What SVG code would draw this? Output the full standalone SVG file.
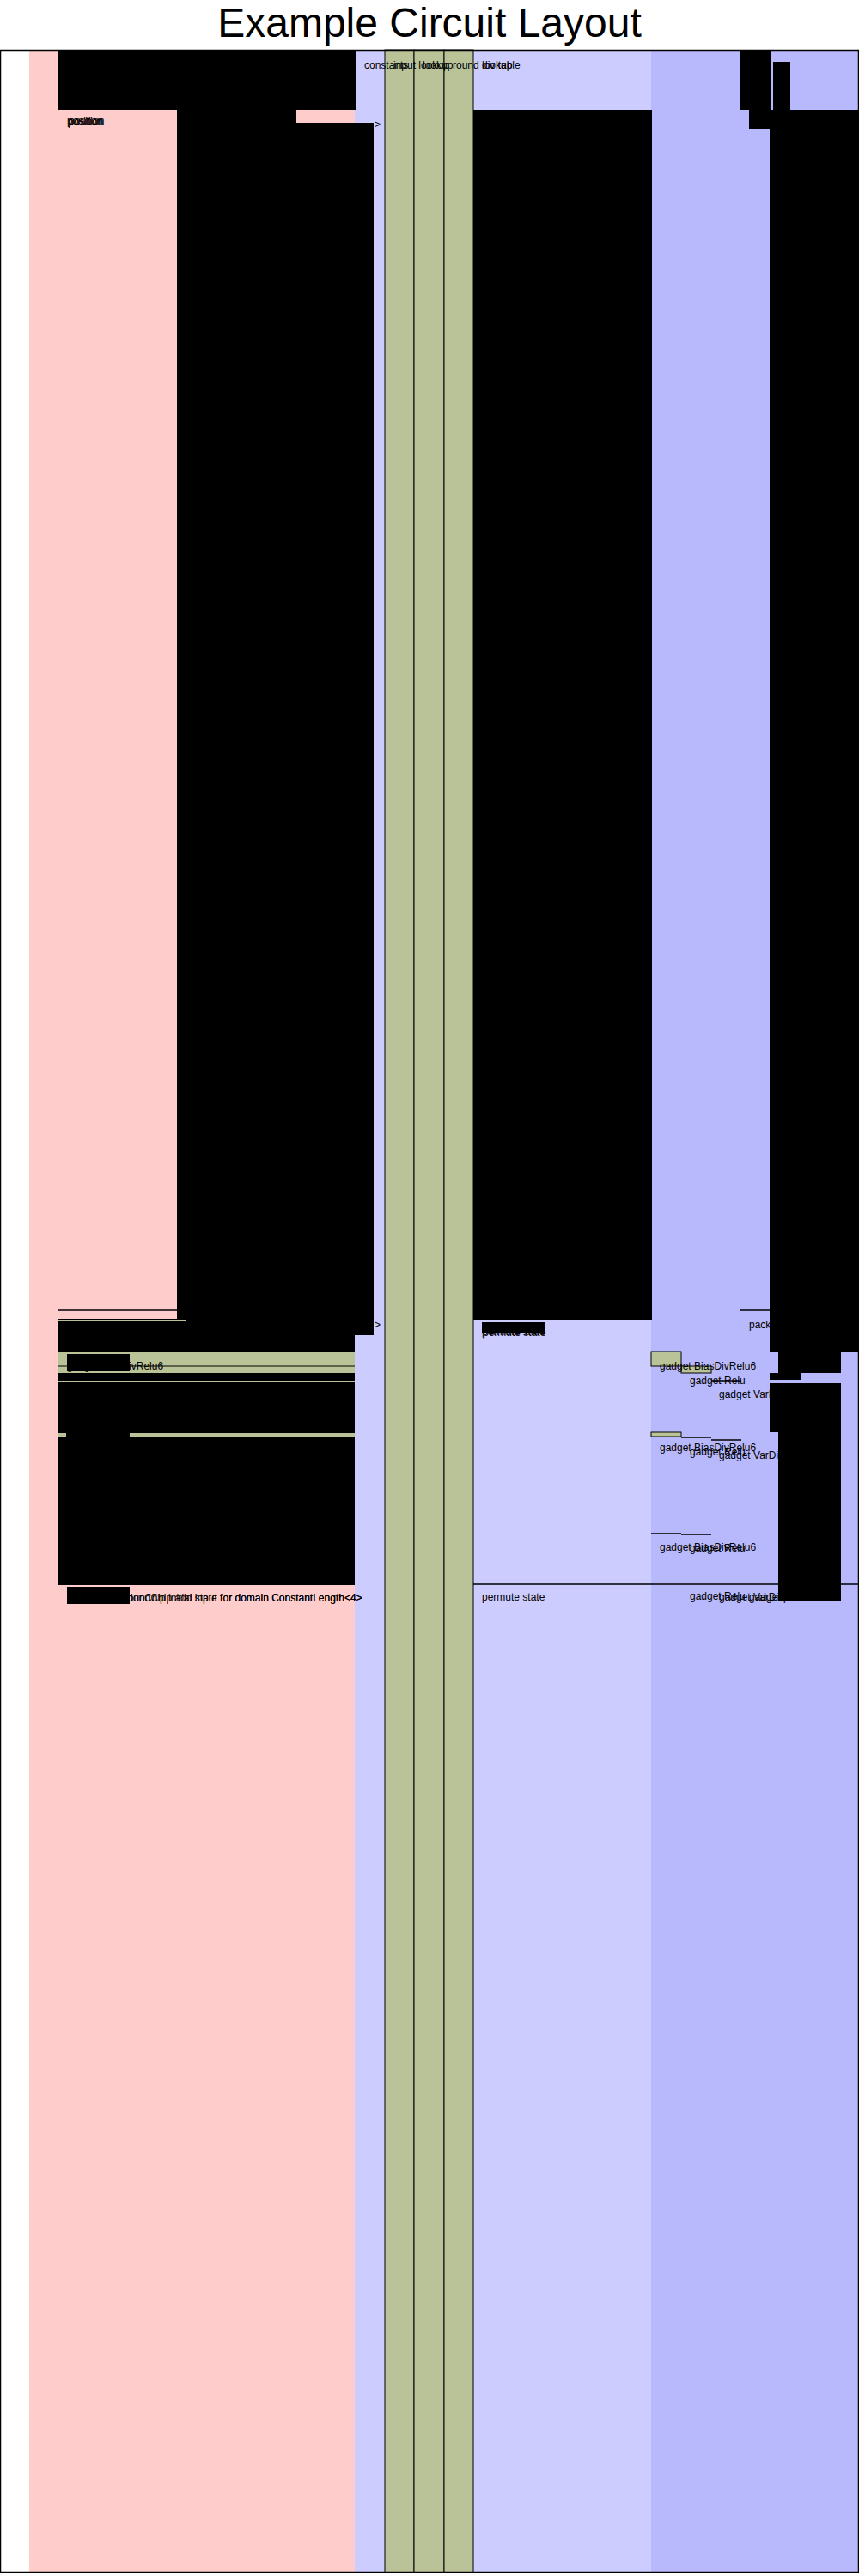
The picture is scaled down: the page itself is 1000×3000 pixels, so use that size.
<svg xmlns="http://www.w3.org/2000/svg" width="1000" height="3000" viewBox="0 0 1000 3000">
<style>
text{font-family:"Liberation Sans",Arial,sans-serif;fill:#000}
.t{font-size:12px}
.blk{fill:#000}
.grn{fill:#bac398;stroke:#000;stroke-width:1}
.gf{fill:#bac398}
.ln{stroke:#000;stroke-width:1.5;fill:none}
</style>
<rect x="0" y="0" width="1000" height="3000" fill="#fff"/>
<text x="500" y="43" font-size="48" text-anchor="middle">Example Circuit Layout</text>
<g id="columns">
<rect x="34" y="58" width="379" height="2938" fill="#ffcccc"/>
<rect x="413" y="58" width="35" height="2938" fill="#ccccff"/>
<rect x="551" y="58" width="207" height="2938" fill="#ccccff"/>
<rect x="758" y="58" width="242" height="2938" fill="#b8b8fc"/>
</g>
<g id="region-lookups">
<rect class="grn" x="448" y="58" width="34" height="2938"/>
<rect class="grn" x="482" y="58" width="35" height="2938"/>
<rect class="grn" x="517" y="58" width="34" height="2938"/>
</g>
<g id="region-left-top">
<rect class="blk" x="67" y="58" width="347" height="70"/>
<rect class="blk" x="206" y="128" width="139" height="1409"/>
<rect class="blk" x="345" y="143" width="90" height="1394"/>
<rect class="blk" x="413" y="1537" width="22" height="18"/>
<text class="t" x="78" y="145">position</text>
<text class="t" x="80" y="145">position</text>
<text class="t" x="79" y="146">position</text>
<text class="t" x="436" y="149">&gt;</text>
<line class="ln" x1="68" y1="1526" x2="206" y2="1526"/>
</g>
<g id="region-left-gadgets">
<rect class="blk" x="68" y="1536" width="345" height="310"/>
<rect class="gf" x="68" y="1537" width="148" height="2"/>
<rect class="gf" x="68" y="1575" width="345" height="24"/>
<rect class="blk" x="78" y="1577" width="73" height="20"/>
<line x1="68" y1="1591" x2="413" y2="1591" stroke="#000" stroke-width="1"/>
<text class="t" x="78" y="1595">gadget BiasDivRelu6</text>
<rect class="gf" x="68" y="1608" width="345" height="2"/>
<rect class="gf" x="68" y="1669" width="9" height="4"/>
<rect class="gf" x="151" y="1669" width="262" height="4"/>
<text class="t" x="436" y="1547">&gt;</text>
</g>
<g id="region-left-poseidon">
<rect class="blk" x="78" y="1848" width="73" height="20"/>
<text class="t" x="78" y="1865">gadget PoseidonChip initial state for domain ConstantLength&lt;4&gt;</text>
<text class="t" x="100" y="1865">gadget RoundChip add input for domain ConstantLength&lt;4&gt;</text>
</g>
<g id="region-labels">
<text class="t" x="424" y="80">constants</text>
<text class="t" x="458" y="80">input lookup</text>
<text class="t" x="492" y="80">lookup</text>
<text class="t" x="527" y="80">round lookup</text>
<text class="t" x="561" y="80">div table</text>
</g>
<g id="region-permute">
<rect class="blk" x="551" y="128" width="208" height="1409"/>
<text class="t" x="561" y="1555">permute state</text>
<text class="t" x="562" y="1556">permute state</text>
<rect class="blk" x="561" y="1540" width="74" height="12"/>
<line class="ln" x1="551" y1="1845" x2="759" y2="1845"/>
<text class="t" x="561" y="1864">permute state</text>
</g>
<g id="region-right-top">
<rect class="blk" x="862" y="58" width="35" height="70"/>
<rect class="blk" x="900" y="72" width="20" height="56"/>
<rect class="blk" x="872" y="128" width="25" height="22"/>
<rect class="blk" x="896" y="128" width="104" height="1447"/>
<line class="ln" x1="862" y1="1526" x2="896" y2="1526"/>
<text class="t" x="872" y="1547">packed</text>
<rect class="blk" x="896" y="1537" width="104" height="12"/>
</g>
<g id="region-right-gadgets">
<rect class="blk" x="906" y="1575" width="73" height="24"/>
<rect class="blk" x="896" y="1599" width="36" height="8"/>
<rect class="blk" x="896" y="1611" width="83" height="57"/>
<rect class="blk" x="906" y="1668" width="73" height="177"/>
<rect class="blk" x="906" y="1845" width="73" height="20"/>
<rect class="grn" x="758" y="1574" width="35" height="17"/>
<rect class="grn" x="793" y="1591" width="35" height="8"/>
<line class="ln" x1="828" y1="1608" x2="863" y2="1608"/>
<text class="t" x="768" y="1595">gadget BiasDivRelu6</text>
<text class="t" x="803" y="1612">gadget Relu</text>
<text class="t" x="837" y="1628">gadget VarDivRound</text>
<rect class="grn" x="758" y="1668" width="35" height="5"/>
<line class="ln" x1="793" y1="1674" x2="828" y2="1674"/>
<line class="ln" x1="828" y1="1677" x2="863" y2="1677"/>
<text class="t" x="768" y="1690">gadget BiasDivRelu6</text>
<text class="t" x="803" y="1695">gadget Relu</text>
<text class="t" x="837" y="1699">gadget VarDivRound</text>
<line class="ln" x1="758" y1="1786" x2="793" y2="1786"/>
<line class="ln" x1="793" y1="1787" x2="828" y2="1787"/>
<text class="t" x="768" y="1806">gadget BiasDivRelu6</text>
<text class="t" x="803" y="1807">gadget Relu</text>
<line class="ln" x1="759" y1="1845" x2="1000" y2="1845"/>
<text class="t" x="803" y="1863">gadget Relu</text>
<text class="t" x="837" y="1864">gadget VarDivRound</text>
<text class="t" x="872" y="1864">gadget packer</text>
</g>
<rect x="0.5" y="58.5" width="999" height="2937" fill="none" stroke="#000" stroke-width="1.5"/>
</svg>
